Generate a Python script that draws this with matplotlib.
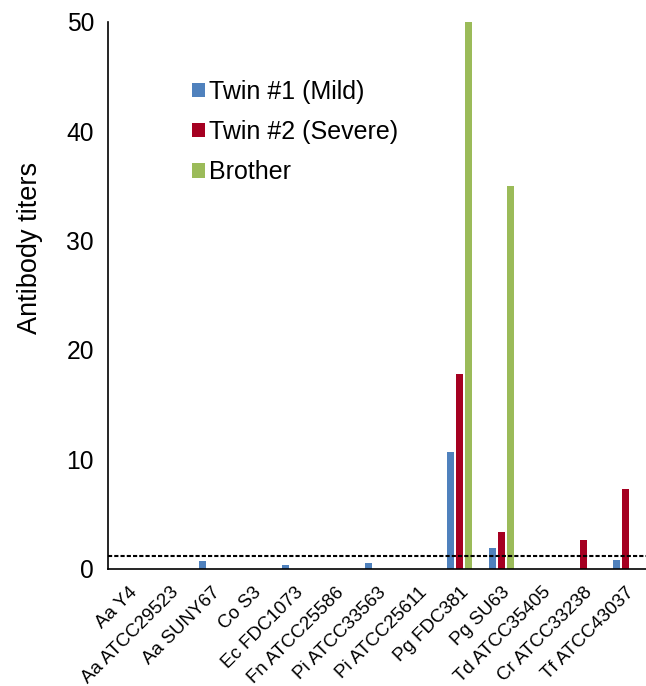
import matplotlib
matplotlib.use("Agg")
import matplotlib.pyplot as plt
import numpy as np

plt.rcParams['font.family'] = ['Liberation Sans', 'DejaVu Sans']

strains = ['Aa Y4', 'Aa ATCC29523', 'Aa SUNY67', 'Co S3', 'Ec FDC1073',
           'Fn ATCC25586', 'Pi ATCC33563', 'Pi ATCC25611', 'Pg FDC381',
           'Pg SU63', 'Td ATCC35405', 'Cr ATCC33238', 'Tf ATCC43037']
twin1 = [0, 0, 0.7, 0, 0.3, 0, 0.55, 0, 10.7, 1.9, 0, 0, 0.75]
twin2 = [0, 0, 0, 0, 0, 0, 0, 0, 17.8, 3.4, 0, 2.6, 7.3]
brother = [0, 0, 0, 0, 0, 0, 0, 0, 50, 35, 0, 0, 0]
cutoff = 1.15

fig = plt.figure(figsize=(6.46, 6.86), dpi=100)
ax = fig.add_axes([0.167, 0.171, 0.833, 0.797])

x = np.arange(len(strains))
w = 0.17
ax.bar(x - 0.215, twin1, w, color='#4F81BD', label='Twin #1 (Mild)')
ax.bar(x, twin2, w, color='#A50021', label='Twin #2 (Severe)')
ax.bar(x + 0.215, brother, w, color='#9BBB59', label='Brother')
ax.axhline(cutoff, color='black', ls=(0, (2, 1)), lw=1.5)

ax.set_xlim(-0.5, len(strains) - 0.5)
ax.set_ylim(0, 50)
ax.set_yticks([0, 10, 20, 30, 40, 50])
ax.tick_params(axis='y', length=0, labelsize=17.7, pad=10)
ax.tick_params(axis='x', length=0, labelsize=13.5, pad=11)
ax.set_xticks(x)
ax.set_xticklabels(strains, rotation=45, ha='right', rotation_mode='anchor')
ax.set_ylabel('Antibody titers', fontsize=19.5)
ax.yaxis.set_label_coords(-0.121, 0.587)
for s in ['top', 'right']:
    ax.spines[s].set_visible(False)
for s in ['left', 'bottom']:
    ax.spines[s].set_linewidth(1.2)

ax.legend(loc='upper left', bbox_to_anchor=(0.115, 0.935), frameon=False,
          fontsize=18, handlelength=0.5, handleheight=0.5, handletextpad=0.15,
          labelspacing=0.65)

plt.savefig('out.png', dpi=100)
